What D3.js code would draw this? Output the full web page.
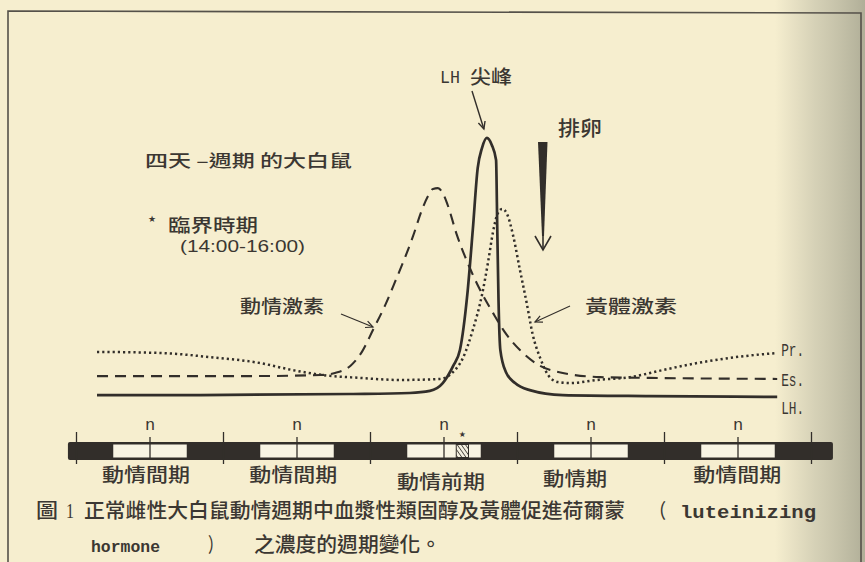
<!DOCTYPE html>
<html><head><meta charset="utf-8">
<script src="https://cdn.jsdelivr.net/npm/d3@7"></script>
<style>body{margin:0;background:#f6eecf}svg{display:block}</style>
</head><body>
<svg id="c" width="865" height="562"></svg>
<script>
// ---------------- data ----------------
// time in hours from midnight of day 1; value in arbitrary concentration units
const lhHours  = [3.35,20.2,44.7,54.4,57.7,59.8,61.5,62.6,63.8,64.7,65.5,66.2,67.0,67.8,68.5,68.7,68.9,69.2,70.1,71.6,74.0,79.4,93.6,114.4];
const lhValues = [1.9,1.9,2.3,2.7,3.5,6.5,13.1,19.2,40.4,65.4,89.2,96.9,100.8,98.1,92.3,65.4,38.5,19.2,10.8,6.5,3.8,1.9,1.5,1.2];

const esHours  = [3.35,28.3,39.8,42.2,44.7,46.6,48.4,50.4,52.0,53.6,54.9,56.4,57.4,58.2,59.0,59.8,60.6,62.1,63.8,65.9,68.0,69.9,72.4,75.7,79.4,85.5,93.6,114.4];
const esValues = [9.2,9.2,9.6,10.4,13.1,18.5,26.9,36.5,45.4,54.6,62.7,73.1,78.5,81.2,81.5,79.6,75.0,63.5,53.1,42.3,33.5,26.2,19.2,13.1,10.4,8.8,8.5,8.1];

const prHours  = [3.35,13.6,21.8,30.0,35.3,40.2,46.3,52.8,59.3,61.5,63.1,64.7,66.2,67.2,68.0,68.8,69.5,70.3,71.3,72.4,73.5,74.5,75.7,77.0,78.6,80.6,85.0,90.4,95.7,101.3,106.7,114.4];
const prValues = [18.5,18.1,16.5,14.2,11.5,9.6,8.5,7.7,8.1,10.8,16.2,26.9,40.4,53.1,64.6,71.9,73.5,71.5,63.1,50.0,37.3,25.0,16.2,9.6,6.9,6.5,7.7,8.8,11.5,14.2,16.2,18.1];

const seriesNames = ["Pr.", "Es.", "LH."];

const barExtent     = [-1.4, 123.5];
const lightPeriods  = [[6,18],[30,42],[54,66],[78,90],[102,114]];
const midnightTicks = [0,24,48,72,96,120];
const noonTicks     = [12,36,60,84,108];
const noonLabel     = "n";
const criticalPeriod = [62,64];
const stageLabels   = ["動情間期","動情間期","動情前期","動情期","動情間期"];
const stageHours    = [11.35,35.4,59.5,81.4,107.9];

// ---------------- drawing ----------------
const svg = d3.select("#c");
const ink = "#322e2a";
const txt = "#3b3732";
const cjk = "'Noto Sans CJK TC','Noto Sans CJK SC',sans-serif";
const mono = "'Liberation Mono','DejaVu Sans Mono',monospace";

const defs = svg.append("defs");
const g1 = defs.append("linearGradient").attr("id","shade").attr("x1","0").attr("x2","1").attr("y1","0").attr("y2","0");
g1.append("stop").attr("offset","0").attr("stop-color","#b4b39d").attr("stop-opacity",0);
g1.append("stop").attr("offset","0.45").attr("stop-color","#b4b39d").attr("stop-opacity",0.5);
g1.append("stop").attr("offset","1").attr("stop-color","#a4a38e").attr("stop-opacity",0.85);
const pat = defs.append("pattern").attr("id","hatch").attr("patternUnits","userSpaceOnUse")
  .attr("width",3.4).attr("height",3.4).attr("patternTransform","rotate(-35)");
pat.append("rect").attr("width",3.4).attr("height",3.4).attr("fill","#f3efe0");
pat.append("line").attr("x1",0).attr("y1",0).attr("x2",0).attr("y2",3.4).attr("stroke",ink).attr("stroke-width",1.5);

svg.append("rect").attr("width",865).attr("height",562).attr("fill","#f6eecf");
svg.append("rect").attr("x",775).attr("width",90).attr("height",562).attr("fill","url(#shade)");
// frame
svg.append("path").attr("d","M8,575 L8,11 L861,13 L861,575").attr("fill","none").attr("stroke","#55514a").attr("stroke-width",1.6);

const x = d3.scaleLinear().domain([0,120]).range([76.5,811.5]);
const y = d3.scaleLinear().domain([0,100]).range([400,140]);
const line = d3.line().x(d=>x(d[0])).y(d=>y(d[1])).curve(d3.curveMonotoneX);

svg.append("path").datum(d3.zip(prHours,prValues)).attr("d",line)
  .attr("fill","none").attr("stroke",ink).attr("stroke-width",2.5)
  .attr("stroke-dasharray","2.2,3");
svg.append("path").datum(d3.zip(esHours,esValues)).attr("d",line)
  .attr("fill","none").attr("stroke",ink).attr("stroke-width",2.1)
  .attr("stroke-dasharray","11,7");
svg.append("path").datum(d3.zip(lhHours,lhValues)).attr("d",line)
  .attr("fill","none").attr("stroke",ink).attr("stroke-width",2.7);

// series end labels
const ends = [prValues[prValues.length-1], esValues[esValues.length-1], lhValues[lhValues.length-1]];
const endHour = lhHours[lhHours.length-1];
const labelDy = [3, 7, 17];
svg.selectAll("text.end").data(seriesNames).join("text").attr("class","end")
  .attr("x", x(endHour)+4).attr("y",(d,i)=>y(ends[i])+labelDy[i])
  .attr("font-family",mono).attr("font-size",18).attr("fill",txt)
  .attr("textLength",23).attr("lengthAdjust","spacingAndGlyphs").text(d=>d);

// helper arrow
function arrow(x1,y1,x2,y2,s,w){
  svg.append("line").attr("x1",x1).attr("y1",y1).attr("x2",x2).attr("y2",y2)
    .attr("stroke",ink).attr("stroke-width",w||1.3);
  const a = Math.atan2(y2-y1,x2-x1);
  const p = [[x2 - s*Math.cos(a-0.45), y2 - s*Math.sin(a-0.45)],[x2,y2],[x2 - s*Math.cos(a+0.45), y2 - s*Math.sin(a+0.45)]];
  svg.append("path").attr("d",d3.line()(p)).attr("fill","none").attr("stroke",ink).attr("stroke-width",w||1.3);
}

// LH peak annotation
const peakI = lhValues.indexOf(d3.max(lhValues));
svg.append("text").attr("x",440).attr("y",83).attr("font-family",mono).attr("font-size",18).attr("fill",txt)
  .attr("textLength",20).attr("lengthAdjust","spacingAndGlyphs").text("LH");
svg.append("text").attr("x",470).attr("y",84).attr("font-family",cjk).attr("font-size",19).attr("font-weight",500).attr("fill",txt)
  .attr("textLength",42).attr("lengthAdjust","spacingAndGlyphs").text("尖峰");
arrow(472,91, x(lhHours[peakI])-3, y(lhValues[peakI])-9, 8, 1.4);

// ovulation
svg.append("text").attr("x",558).attr("y",136).attr("font-family",cjk).attr("font-size",20).attr("font-weight",500).attr("fill",txt)
  .attr("textLength",44).attr("lengthAdjust","spacingAndGlyphs").text("排卵");
svg.append("path").attr("d","M538,142 L547.5,142 L544,236 L542,236 Z").attr("fill",ink);
svg.append("line").attr("x1",543).attr("y1",234).attr("x2",543).attr("y2",250).attr("stroke",ink).attr("stroke-width",1.6);
svg.append("path").attr("d","M535,236 L543,250 L551,236").attr("fill","none").attr("stroke",ink).attr("stroke-width",1.6);

// title & notes
svg.append("text").attr("x",145).attr("y",167).attr("font-family",cjk).attr("font-size",17).attr("font-weight",500).attr("fill",txt)
  .attr("textLength",207).attr("lengthAdjust","spacingAndGlyphs").text("四天 –週期 的大白鼠");
svg.append("text").attr("x",152).attr("y",222).attr("text-anchor","middle").attr("font-family","DejaVu Sans").attr("font-size",9).attr("fill",txt).text("★");
svg.append("text").attr("x",168).attr("y",232).attr("font-family",cjk).attr("font-size",18).attr("font-weight",500).attr("fill",txt)
  .attr("textLength",90).attr("lengthAdjust","spacingAndGlyphs").text("臨界時期");
svg.append("text").attr("x",180).attr("y",252).attr("font-family","'Liberation Sans',sans-serif").attr("font-size",17).attr("fill",txt)
  .attr("textLength",125).attr("lengthAdjust","spacingAndGlyphs").text("(14:00-16:00)");

svg.append("text").attr("x",240).attr("y",313).attr("font-family",cjk).attr("font-size",18).attr("font-weight",500).attr("fill",txt)
  .attr("textLength",84).attr("lengthAdjust","spacingAndGlyphs").text("動情激素");
arrow(341,314,373,327,8,1.2);
svg.append("text").attr("x",585).attr("y",313).attr("font-family",cjk).attr("font-size",18).attr("font-weight",500).attr("fill",txt)
  .attr("textLength",92).attr("lengthAdjust","spacingAndGlyphs").text("黃體激素");
arrow(570,306,535,322,8,1.2);

// ---------------- timeline bar ----------------
const bTop = 442, bBot = 460;
svg.append("rect").attr("x",x(barExtent[0])).attr("y",bTop).attr("width",x(barExtent[1])-x(barExtent[0]))
  .attr("height",bBot-bTop).attr("rx",2).attr("fill",ink);
svg.selectAll("rect.light").data(lightPeriods).join("rect").attr("class","light")
  .attr("x",d=>x(d[0])).attr("y",bTop+2.5).attr("width",d=>x(d[1])-x(d[0])).attr("height",bBot-bTop-5)
  .attr("fill","#f8f4e3");
svg.append("rect").attr("x",x(criticalPeriod[0])).attr("y",bTop+2.5)
  .attr("width",x(criticalPeriod[1])-x(criticalPeriod[0])).attr("height",bBot-bTop-5)
  .attr("fill","url(#hatch)").attr("stroke",ink).attr("stroke-width",1);
svg.append("text").attr("x",x((criticalPeriod[0]+criticalPeriod[1])/2)).attr("y",437).attr("text-anchor","middle")
  .attr("font-family","DejaVu Sans").attr("font-size",8).attr("fill",txt).text("★");
svg.selectAll("line.mid").data(midnightTicks).join("line").attr("class","mid")
  .attr("x1",d=>x(d)).attr("x2",d=>x(d)).attr("y1",432).attr("y2",464).attr("stroke",ink).attr("stroke-width",1.3);
svg.selectAll("line.noon").data(noonTicks).join("line").attr("class","noon")
  .attr("x1",d=>x(d)).attr("x2",d=>x(d)).attr("y1",437).attr("y2",bBot-2).attr("stroke",ink).attr("stroke-width",1.3);
svg.selectAll("text.n").data(noonTicks).join("text").attr("class","n")
  .attr("x",d=>x(d)).attr("y",430).attr("text-anchor","middle").attr("font-family",mono).attr("font-size",17)
  .attr("fill",txt).text(noonLabel);
const stageDy = [0,0,7,4,0];
svg.selectAll("text.stage").data(stageLabels).join("text").attr("class","stage")
  .attr("x",(d,i)=>x(stageHours[i]) - (d.length===4?44:32)).attr("y",(d,i)=>482+stageDy[i])
  .attr("font-family",cjk).attr("font-size",19).attr("font-weight",500).attr("fill",txt)
  .attr("textLength",d=>d.length===4?88:64).attr("lengthAdjust","spacingAndGlyphs").text(d=>d);

// ---------------- caption ----------------
function cap(xp,yp,str,w,fam,fs,fw){
  svg.append("text").attr("x",xp).attr("y",yp).attr("font-family",fam||cjk).attr("font-size",fs||20)
    .attr("font-weight",fw||500).attr("fill",txt)
    .attr("textLength",w).attr("lengthAdjust","spacingAndGlyphs").text(str);
}
cap(36,518,"圖",22);
cap(66,518,"1",8,"'Liberation Serif',serif",20);
cap(84,518,"正常雌性大白鼠動情週期中血漿性類固醇及黃體促進荷爾蒙",541);
cap(650,518,"（",16);
cap(680,518,"luteinizing",136,"'Liberation Mono',monospace",19,700);
cap(91,552,"hormone",69,"'Liberation Mono',monospace",17,700);
cap(208,552,"）",14);
cap(254,552,"之濃度的週期變化。",187);
</script>
</body></html>
